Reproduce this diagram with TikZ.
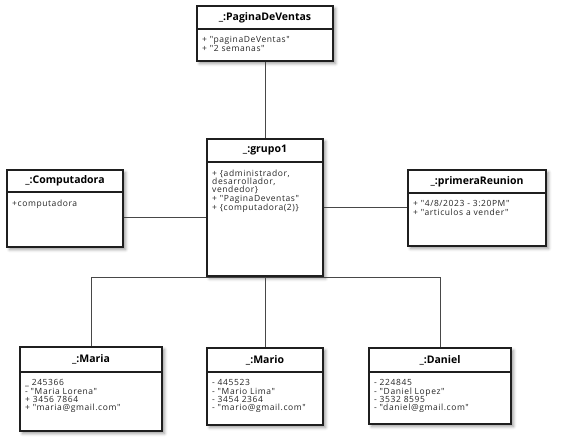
\documentclass[tikz,border=0pt]{standalone}
\usepackage{fontspec}
\setmainfont{Open Sans}
\newfontfamily\attrfont[LetterSpace=7]{Open Sans}
\usetikzlibrary{shadows.blur}

\tikzset{
  objframe/.style={draw=black!88, line width=1.1pt, fill=white, inner sep=0pt,
    blur shadow={shadow xshift=2.5pt, shadow yshift=-2.5pt, shadow blur radius=3pt, shadow opacity=40}},
  objsep/.style={draw=black!88, line width=1.1pt},
  objtitle/.style={font=\bfseries\fontsize{10.5}{12}\selectfont, inner sep=0pt},
  objbody/.style={font=\attrfont\fontsize{8.5}{8.33}\selectfont, text=black!85, align=left, anchor=north west, inner sep=0pt},
  link/.style={draw=black!72, line width=0.8pt},
}

% #1 name, #2 left, #3 top, #4 right, #5 bottom, #6 header rule, #7 title, #8 attributes
\newcommand\umlobject[8]{%
  \node[objframe, minimum width={(#4-#2)*1pt}, minimum height={(#5-#3)*1pt}]
    (#1) at ({(#2+#4)/2},{(#3+#5)/2}) {};
  \draw[objsep] (#2,#6) -- (#4,#6);
  \node[objtitle] (#1-title) at ({(#2+#4)/2},{(#3+#6)/2}) {#7};
  \node[objbody] (#1-body) at ({#2+5},{#6+7.5}) {#8};
}

\begin{document}
\begin{tikzpicture}[x=1pt, y=-1pt]
  \useasboundingbox (0,0) rectangle (561,445);

  \umlobject{pag}{197}{6}{333}{61}{29}{\_:PaginaDeVentas}
    {+ "paginaDeVentas"\\+ "2 semanas"}
  \umlobject{grp}{207}{139}{323}{276}{162}{\_:grupo1}
    {+ \{administrador,\\desarrollador,\\vendedor\}\\+ "PaginaDeventas"\\+ \{computadora(2)\}}
  \umlobject{comp}{7}{170}{123}{247}{192}{\_:Computadora}
    {+computadora}
  \umlobject{reu}{408}{170}{546}{246}{193}{\_:primeraReunion}
    {+ "4/8/2023 - 3:20PM"\\+ "articulos a vender"}
  \umlobject{maria}{20}{347}{162}{431}{372}{\_:Maria}
    {\_ 245366\\- "Maria Lorena"\\+ 3456 7864\\+ "maria@gmail.com"}
  \umlobject{mario}{207}{348}{323}{425}{372}{\_:Mario}
    {- 445523\\- "Mario Lima"\\- 3454 2364\\- "mario@gmail.com"}
  \umlobject{daniel}{369}{348}{511}{424}{372}{\_:Daniel}
    {- 224845\\- "Daniel Lopez"\\- 3532 8595\\- "daniel@gmail.com"}

  % routing levels for the links
  \coordinate (lkleft) at (0,217);
  \coordinate (lkright) at (0,207);
  \coordinate (bus) at (0,277);

  \draw[link] (pag.south) -- (grp.north);
  \draw[link] (comp.east |- lkleft) -- (grp.west |- lkleft);
  \draw[link] (grp.east |- lkright) -- (reu.west |- lkright);
  \draw[link] (grp.south) -- (mario.north);
  \draw[link] (maria.north) -- (maria.north |- bus) -- (daniel.north |- bus) -- (daniel.north);
\end{tikzpicture}
\end{document}
